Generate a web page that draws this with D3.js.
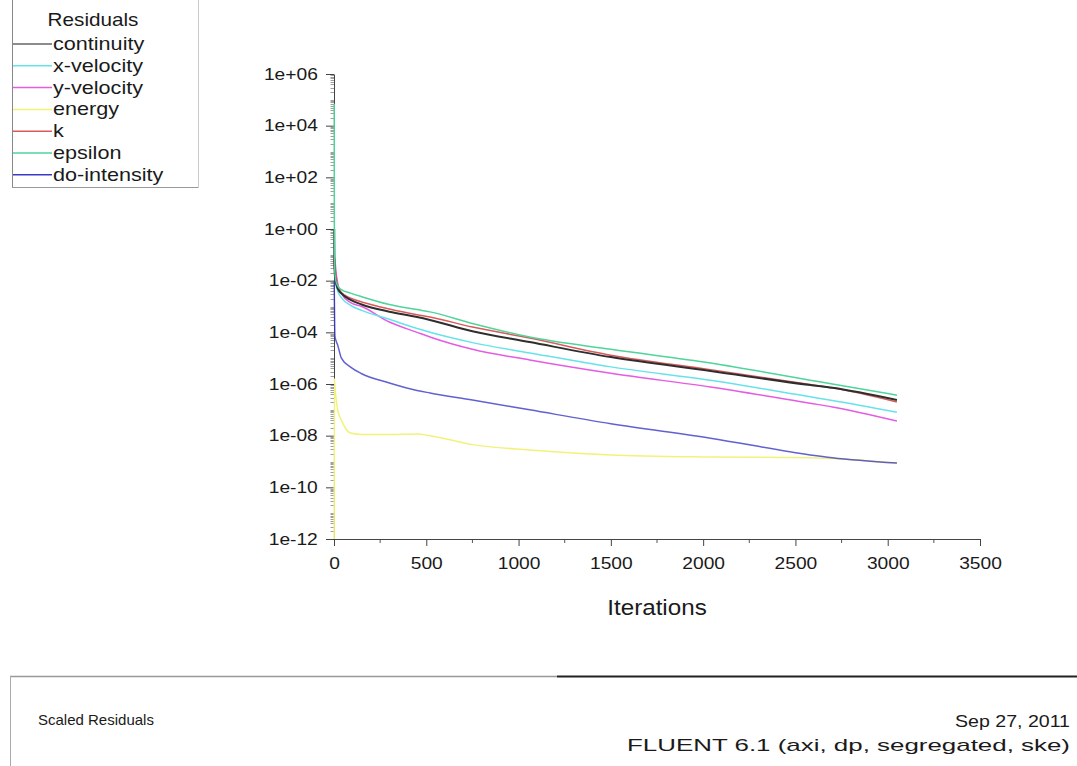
<!DOCTYPE html>
<html>
<head>
<meta charset="utf-8">
<script src="https://cdn.jsdelivr.net/npm/d3@7"></script>
<style>
  html, body { margin: 0; padding: 0; background: #fff; }
  svg { display: block; }
  text { font-family: "Liberation Sans", Arial, Helvetica, sans-serif; fill: #1a1a1a; }
</style>
</head>
<body>
<svg id="chart" width="1077" height="766"></svg>
<script>
// ---- data ----
const iterations = [1, 2, 5, 10, 20, 40, 90, 150, 300, 450, 520, 750, 1060, 1500, 2040, 2580, 2700, 3050];

const continuity = [1.0, 5.0e-2, 1.6e-2, 8.9e-3, 5.0e-3, 3.2e-3, 1.8e-3, 1.2e-3, 6.3e-4, 3.9e-4, 3.0e-4, 1.1e-4, 4.2e-5, 1.1e-5, 3.2e-6, 9.1e-7, 7.1e-7, 2.4e-7];
const xVelocity  = [7.1e-1, 1.0e-1, 2.0e-2, 7.9e-3, 4.0e-3, 2.2e-3, 1.1e-3, 7.1e-4, 3.2e-4, 1.4e-4, 1.0e-4, 4.0e-5, 1.6e-5, 4.6e-6, 1.4e-6, 3.2e-7, 2.3e-7, 8.1e-8];
const yVelocity  = [3.2e-2, 7.9e-2, 6.3e-2, 2.5e-2, 7.9e-3, 3.2e-3, 1.4e-3, 1.0e-3, 2.5e-4, 1.0e-4, 6.6e-5, 2.2e-5, 8.5e-6, 2.6e-6, 7.6e-7, 1.8e-7, 1.3e-7, 3.7e-8];
const energy     = [1e-12, 1.6e-6, 7.9e-7, 3.2e-7, 1.0e-7, 4.0e-8, 1.26e-8, 1.1e-8, 1.1e-8, 1.15e-8, 1.0e-8, 4.5e-9, 2.8e-9, 1.8e-9, 1.5e-9, 1.4e-9, 1.3e-9, 8.7e-10];
const kResidual  = [5.0e-2, 7.9e-2, 4.0e-2, 1.6e-2, 6.3e-3, 3.5e-3, 2.1e-3, 1.5e-3, 8.0e-4, 4.8e-4, 3.9e-4, 1.6e-4, 6.0e-5, 1.3e-5, 3.6e-6, 9.5e-7, 7.1e-7, 2.0e-7];
const epsilon    = [7.1e4, 5.0e-1, 2.0e-2, 1.0e-2, 6.3e-3, 4.5e-3, 3.3e-3, 2.4e-3, 1.2e-3, 7.6e-4, 6.2e-4, 2.2e-4, 6.6e-5, 2.2e-5, 6.5e-6, 1.4e-6, 1.0e-6, 3.7e-7];
const doIntensity= [1.0e-2, 2.0e-3, 7.1e-5, 5.0e-5, 3.2e-5, 1.0e-5, 4.5e-6, 2.5e-6, 1.1e-6, 5.6e-7, 4.5e-7, 2.4e-7, 1.0e-7, 2.9e-8, 8.0e-9, 1.8e-9, 1.4e-9, 8.7e-10];

const seriesNames  = ["continuity", "x-velocity", "y-velocity", "energy", "k", "epsilon", "do-intensity"];
const seriesColors = ["#2e2e2e", "#66e3ea", "#e35ce3", "#f2f27a", "#d85a5a", "#4fd49a", "#3a3ac4"];
const seriesValues = [continuity, xVelocity, yVelocity, energy, kResidual, epsilon, doIntensity];
const drawOrder = [3, 6, 2, 1, 4, 0, 5];

const yTicks = [1e6, 1e4, 1e2, 1e0, 1e-2, 1e-4, 1e-6, 1e-8, 1e-10, 1e-12];
const xTicks = [0, 500, 1000, 1500, 2000, 2500, 3000, 3500];
const xMinorTicks = [250, 750, 1250, 1750, 2250, 2750, 3250];

const legendTitle = "Residuals";
const xTitle = "Iterations";
const footerLeft = "Scaled Residuals";
const footerRight1 = "Sep 27, 2011";
const footerRight2 = "FLUENT 6.1 (axi, dp, segregated, ske)";

// ---- drawing ----
const svg = d3.select("#chart");
const x = d3.scaleLinear().domain([0, 3500]).range([334, 980]);
const y = d3.scaleLog().domain([1e-12, 1e6]).range([539, 74]);

const fmtExp = d => {
  const e = Math.round(Math.log10(d));
  return "1e" + (e < 0 ? "-" : "+") + String(Math.abs(e)).padStart(2, "0");
};

// minor log ticks on the y axis
const minorY = [];
for (let e = -12; e < 6; e++) {
  for (let m = 2; m <= 9; m += 1) minorY.push(m * Math.pow(10, e));
  if (e % 2 !== 0) minorY.push(Math.pow(10, e));
}
svg.append("g").selectAll("line").data(minorY).join("line")
  .attr("x1", 334).attr("x2", 330.5)
  .attr("y1", d => Math.round(y(d)) + 0.5).attr("y2", d => Math.round(y(d)) + 0.5)
  .attr("stroke", "#888").attr("stroke-width", 0.8);

// y axis
const yAxis = svg.append("g").attr("transform", "translate(334,0)")
  .call(d3.axisLeft(y).tickValues(yTicks).tickFormat(fmtExp).tickSize(8).tickSizeOuter(0).tickPadding(8));
yAxis.select(".domain").attr("stroke", "#444");
yAxis.selectAll(".tick line").attr("stroke", "#444");
yAxis.selectAll(".tick text")
  .attr("font-size", 16).attr("fill", "#1a1a1a")
  .attr("x", -13.5)
  .attr("transform", "scale(1.2,1)");

// x axis minor ticks
svg.append("g").selectAll("line").data(xMinorTicks).join("line")
  .attr("x1", d => x(d)).attr("x2", d => x(d))
  .attr("y1", 539).attr("y2", 543)
  .attr("stroke", "#555");

const xAxis = svg.append("g").attr("transform", "translate(0,539)")
  .call(d3.axisBottom(x).tickValues(xTicks).tickFormat(d3.format("d")).tickSize(7).tickSizeOuter(0).tickPadding(12));
xAxis.select(".domain").attr("stroke", "#444");
xAxis.selectAll(".tick line").attr("stroke", "#444");
xAxis.selectAll(".tick text")
  .attr("font-size", 16).attr("fill", "#1a1a1a")
  .attr("transform", "scale(1.2,1)")
  .attr("x", 0);

svg.append("text")
  .attr("transform", `translate(${x(1750)},${615}) scale(1.1,1)`)
  .attr("text-anchor", "middle")
  .attr("font-size", 22)
  .text(xTitle);

// lines
const line = d3.line()
  .x((d, i) => x(iterations[i]))
  .y(d => y(d))
  .curve(d3.curveMonotoneX);

const linesG = svg.append("g");
drawOrder.forEach(si => {
  linesG.append("path")
    .datum(seriesValues[si])
    .attr("d", line)
    .attr("fill", "none")
    .attr("stroke", seriesColors[si])
    .attr("stroke-width", si === 0 ? 2 : 1.5)
    .attr("stroke-opacity", si === 6 ? 0.8 : 1)
    .attr("stroke-linejoin", "round");
});

// legend
const lg = svg.append("g");
lg.append("line").attr("x1", 12.5).attr("x2", 12.5).attr("y1", 0).attr("y2", 187).attr("stroke", "#888");
lg.append("line").attr("x1", 12).attr("x2", 198).attr("y1", 187.5).attr("y2", 187.5).attr("stroke", "#999");
lg.append("line").attr("x1", 198.5).attr("x2", 198.5).attr("y1", 0).attr("y2", 188).attr("stroke", "#ccc");
lg.append("text")
  .attr("transform", "translate(93,26) scale(1.15,1)")
  .attr("text-anchor", "middle").attr("font-size", 18)
  .text(legendTitle);
seriesNames.forEach((name, i) => {
  const cy = 44 + i * 21.8;
  lg.append("line").attr("x1", 13).attr("x2", 52).attr("y1", cy).attr("y2", cy)
    .attr("stroke", i === 0 ? "#666" : seriesColors[i]).attr("stroke-width", 1.5);
  lg.append("text")
    .attr("transform", `translate(53,${cy + 6}) scale(1.2,1)`)
    .attr("font-size", 18)
    .text(name);
});

// footer
const fg = svg.append("g");
fg.append("line").attr("x1", 10).attr("x2", 557).attr("y1", 676.5).attr("y2", 676.5).attr("stroke", "#999").attr("stroke-width", 1.5);
fg.append("line").attr("x1", 557).attr("x2", 1077).attr("y1", 676.5).attr("y2", 676.5).attr("stroke", "#222").attr("stroke-width", 2);
fg.append("line").attr("x1", 10.5).attr("x2", 10.5).attr("y1", 676).attr("y2", 766).attr("stroke", "#aaa");
fg.append("text").attr("x", 38).attr("y", 725).attr("font-size", 15)
  .text(footerLeft);
fg.append("text").attr("x", 1070).attr("y", 727).attr("text-anchor", "end")
  .attr("font-family", "DejaVu Sans Mono, monospace").attr("font-size", 17)
  .attr("textLength", 115).attr("lengthAdjust", "spacingAndGlyphs")
  .text(footerRight1);
fg.append("text").attr("x", 1070).attr("y", 751).attr("text-anchor", "end")
  .attr("font-family", "DejaVu Sans Mono, monospace").attr("font-size", 17)
  .attr("textLength", 443).attr("lengthAdjust", "spacingAndGlyphs")
  .text(footerRight2);
</script>
</body>
</html>
